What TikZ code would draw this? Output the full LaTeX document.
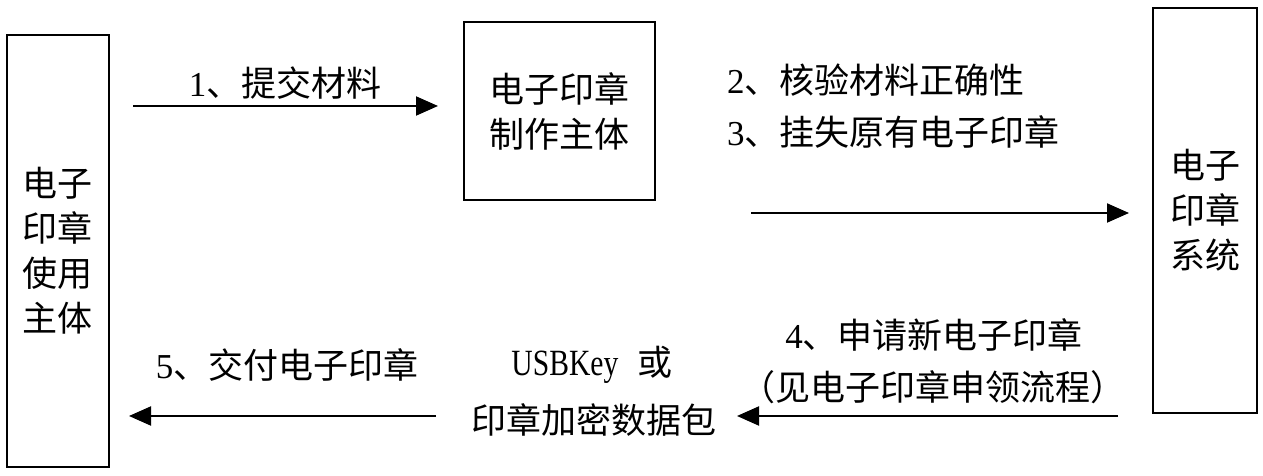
\documentclass[tikz,border=0pt]{standalone}
\usepackage{fontspec}
\setmainfont{Noto Sans CJK SC}
\newfontfamily\lat{Liberation Serif}
\newfontfamily\latn[FakeStretch=0.8]{Liberation Serif}
\usetikzlibrary{arrows.meta}
\begin{document}
\begin{tikzpicture}[x=1pt,y=1pt,
  box/.style={draw, line width=1.5pt, inner sep=0pt, align=center, font=\fontsize{35}{45}\selectfont},
  lbl/.style={inner sep=0pt, align=center, font=\fontsize{35}{45}\selectfont},
  flow/.style={line width=2pt, -{Triangle[length=22pt,width=19pt]}}]
\useasboundingbox (0,0) rectangle (1263,476);
% boxes
\node[box, minimum width=102pt, minimum height=432pt] (L) at (58,225) {电子\\印章\\使用\\主体};
\node[box, minimum width=191pt, minimum height=178pt] (M) at (559.5,365) {电子印章\\制作主体};
\node[box, minimum width=104pt, minimum height=405pt] (R) at (1205,265.5) {电子\\印章\\系统};
% arrow end points
\coordinate (a1s) at (133,370);
\coordinate (a1e) at (438,370);
\coordinate (a2s) at (751,263);
\coordinate (a2e) at (1129,263);
\coordinate (a4s) at (1118,60);
\coordinate (a4e) at (737,60);
\coordinate (a5s) at (436,60);
\coordinate (a5e) at (129,60);
% connectors
\draw[flow] (a1s) -- (a1e);
\draw[flow] (a2s) -- (a2e);
\draw[flow] (a4s) -- (a4e);
\draw[flow] (a5s) -- (a5e);
% labels
\node[lbl] (t1) at (285,393) {{\lat 1}、提交材料};
\node[lbl, anchor=west] (t2) at (727,396) {{\lat 2}、核验材料正确性};
\node[lbl, anchor=west] (t3) at (727,344) {{\lat 3}、挂失原有电子印章};
\node[lbl] (t4) at (934,141) {{\lat 4}、申请新电子印章};
\node[lbl] (t4b) at (933,89) {（见电子印章申领流程）};
\node[lbl] (t5) at (287,111) {{\lat 5}、交付电子印章};
\node[lbl] (usb) at (592,111) {{\latn\fontsize{37}{45}\selectfont USBKey}\hspace{0.55em}或};
\node[lbl] (pkg) at (594,56) {印章加密数据包};
\end{tikzpicture}
\end{document}
